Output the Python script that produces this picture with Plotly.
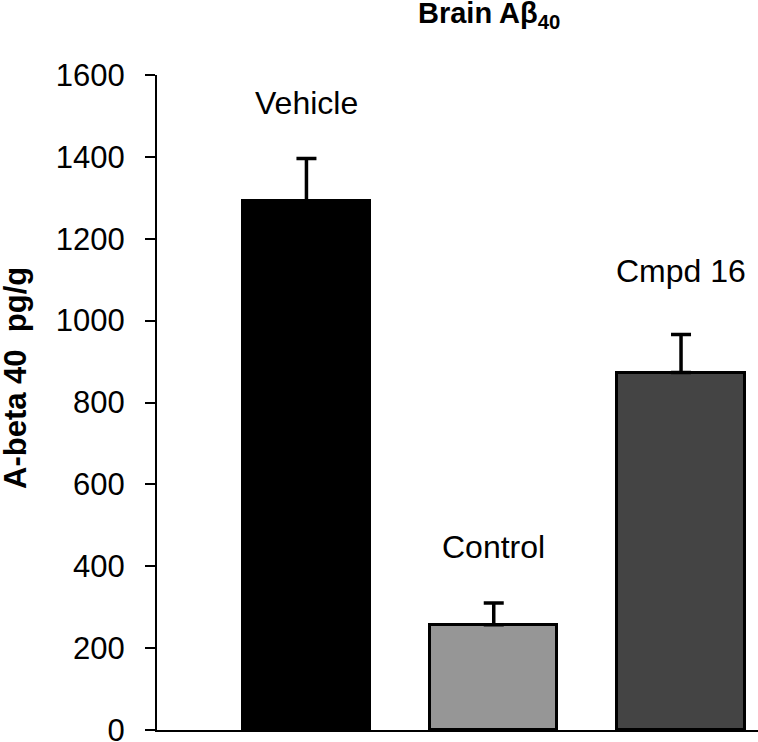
import plotly.graph_objects as go

# Data
categories = ["Vehicle", "Control", "Cmpd 16"]
values = [1292, 257, 873]
err_plus = [104, 53, 93]
bar_colors = ["#000000", "#969696", "#444444"]
label_y = [1532, 447, 1121]
y_ticks = [0, 200, 400, 600, 800, 1000, 1200, 1400, 1600]

W, H = 758, 742
L, R, T, B = 157, 0, 75, 12
pw = W - L - R
ph = H - T - B

def px_x(p):
    return (p - L) / pw

def px_y(p):
    return (H - B - p) / ph

xs = list(range(len(categories)))

fig = go.Figure()
fig.add_trace(go.Bar(
    x=xs, y=values, width=0.68,
    marker=dict(color=bar_colors, line=dict(color="black", width=3)),
    error_y=dict(type="data", symmetric=False, array=err_plus,
                 arrayminus=[0] * len(values), color="black",
                 thickness=3.5, width=10),
    showlegend=False, hoverinfo="skip",
))

font = "Liberation Sans, Arial, sans-serif"

for i, c in enumerate(categories):
    fig.add_annotation(x=xs[i], y=label_y[i], text=c, showarrow=False,
                       xref="x", yref="y", xanchor="center", yanchor="middle",
                       font=dict(family=font, size=32, color="black"))

# title
fig.add_annotation(x=px_x(489), y=px_y(15), xref="paper", yref="paper",
                   text="<b>Brain Aβ<sub>40</sub></b>", showarrow=False,
                   xanchor="center", yanchor="middle",
                   font=dict(family=font, size=29, color="black"))
# y axis title
fig.add_annotation(x=px_x(15), y=px_y(378), xref="paper", yref="paper",
                   text="<b>A-beta 40  pg/g</b>", showarrow=False, textangle=-90,
                   xanchor="center", yanchor="middle",
                   font=dict(family=font, size=31, color="black"))

fig.update_layout(
    width=W, height=H,
    margin=dict(l=L, r=R, t=T, b=B, pad=0),
    plot_bgcolor="white", paper_bgcolor="white",
    bargap=0,
)
# x range chosen so bar centres land at the reference's positions
fig.update_xaxes(range=[-0.798, 2.411], showline=True, linecolor="black", linewidth=2,
                 showticklabels=False, ticks="", showgrid=False, zeroline=False)
fig.update_yaxes(range=[0, 1600], tickvals=y_ticks, ticks="outside", ticklen=10,
                 tickwidth=2, tickcolor="black", showline=True, linecolor="black",
                 linewidth=2, showgrid=False, zeroline=False, ticklabelstandoff=14,
                 ticklabeloverflow="allow", automargin=False,
                 tickfont=dict(family=font, size=31, color="black"))

fig.write_html("out.html", config={"displayModeBar": False},
               post_script="document.body.style.margin='0';document.body.style.overflow='hidden';")
